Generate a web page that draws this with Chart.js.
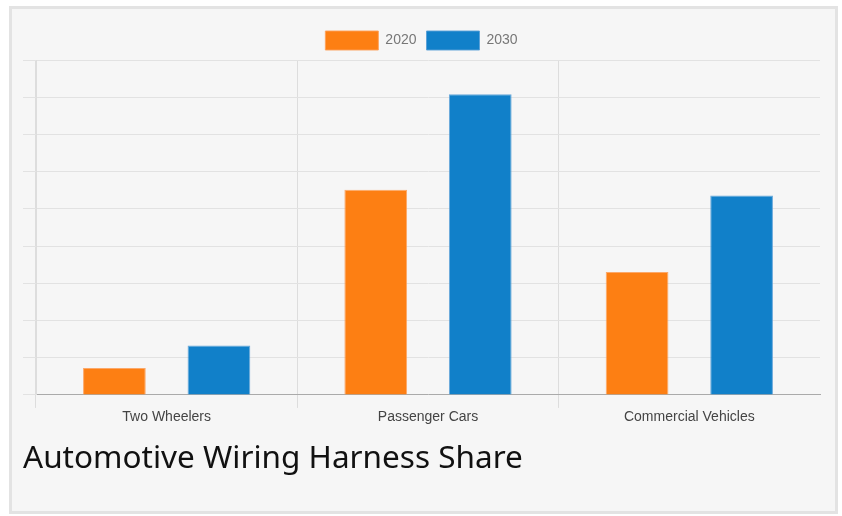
<!DOCTYPE html>
<html lang="en">
<head>
    <meta charset="UTF-8">
    <title>Automotive Wiring Harness Share</title>
    <script src="https://cdn.jsdelivr.net/npm/chart.js@4.4.1/dist/chart.umd.min.js"></script>
    <style>
        body {
            margin: 0;
            background-color: #ffffff;
        }

        #chartBox {
            position: absolute;
            left: 9px;
            top: 6px;
            width: 823px;
            height: 502px;
            border: 3px solid #e3e3e3;
            background-color: #f6f6f6;
        }
    </style>
</head>
<body>
    <div id="chartBox">
        <canvas id="harnessChart"></canvas>
    </div>

    <script>
        var categories = ['Two Wheelers', 'Passenger Cars', 'Commercial Vehicles'];
        var seriesNames = ['2020', '2030'];
        var share2020 = [0.72, 5.51, 3.30];
        var share2030 = [1.33, 8.08, 5.36];

        var tickFont = { family: "'Liberation Sans', Arial, sans-serif", size: 14 };

        var ctx = document.getElementById('harnessChart').getContext('2d');
        new Chart(ctx, {
            type: 'bar',
            data: {
                labels: categories,
                datasets: [{
                    label: seriesNames[0],
                    data: share2020,
                    backgroundColor: '#fd7f13',
                    borderColor: 'rgba(253, 160, 90, 0.9)',
                    borderWidth: 1
                }, {
                    label: seriesNames[1],
                    data: share2030,
                    backgroundColor: '#1180c9',
                    borderColor: 'rgba(90, 160, 215, 0.9)',
                    borderWidth: 1
                }]
            },
            options: {
                responsive: true,
                maintainAspectRatio: false,
                animation: false,
                layout: {
                    padding: { left: 11, right: 15, top: 12, bottom: 0 }
                },
                datasets: {
                    bar: { categoryPercentage: 0.8, barPercentage: 0.6 }
                },
                plugins: {
                    legend: {
                        position: 'top',
                        labels: {
                            boxWidth: 53,
                            boxHeight: 19,
                            color: '#777',
                            font: { family: "'Liberation Sans', Arial, sans-serif", size: 14 }
                        }
                    },
                    title: {
                        display: true,
                        text: 'Automotive Wiring Harness Share',
                        position: 'bottom',
                        align: 'start',
                        color: '#111',
                        font: { family: "'Noto Sans', sans-serif", size: 31.5, weight: 'normal' },
                        padding: { top: 13, bottom: 33.5 }
                    },
                    tooltip: { enabled: false }
                },
                scales: {
                    x: {
                        grid: {
                            // no line on the far right edge
                            color: function (c) { return c.type === 'tick' ? '#dddddd' : 'rgba(0,0,0,0)'; },
                            tickLength: 13
                        },
                        border: { color: '#aaaaaa' },
                        ticks: { color: '#444', font: tickFont, padding: 1 }
                    },
                    y: {
                        min: 0,
                        max: 9,
                        grid: { color: '#e2e2e2', tickLength: 13 },
                        border: { color: '#dddddd' },
                        ticks: { display: false, stepSize: 1 }
                    }
                }
            }
        });
    </script>
</body>
</html>
